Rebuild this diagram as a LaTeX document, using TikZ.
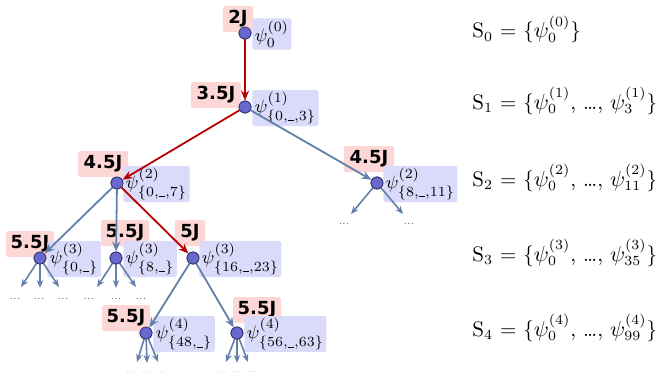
\documentclass[tikz,border=0pt]{standalone}
\usepackage{fontspec}
\newfontfamily\costfont{DejaVu Sans}
\usetikzlibrary{arrows.meta,calc}
\DeclareMathSizes{9}{9}{7}{5.5}
\newcommand{\usc}{\rule[-0.6pt]{3.2pt}{0.4pt}}
\definecolor{pinkbox}{RGB}{253,214,214}
\definecolor{lavbox}{RGB}{218,218,250}
\definecolor{nodefill}{RGB}{104,104,206}
\definecolor{nodedraw}{RGB}{50,50,110}
\definecolor{redarr}{RGB}{185,0,0}
\definecolor{bluearr}{RGB}{98,128,170}
\tikzset{
  x=0.5pt, y=-0.5pt,
  tnode/.style={circle, fill=nodefill, draw=nodedraw, line width=0.4pt, minimum size=6pt, inner sep=0pt},
  costbox/.style={fill=pinkbox, rounded corners=0.8pt, inner sep=0pt, minimum height=13pt, font=\costfont\bfseries\fontsize{9}{9}\selectfont, text=black},
  psibox/.style={fill=lavbox, rounded corners=0.8pt, inner sep=1.2pt, minimum height=15pt, anchor=west, font=\fontsize{9}{10}\selectfont},
  redline/.style={draw=redarr, line width=0.9pt, -{Stealth[length=5pt,width=4pt]}},
  blueline/.style={draw=bluearr, line width=0.9pt, -{Stealth[length=5pt,width=4pt]}},
  leafline/.style={draw=bluearr, line width=0.8pt, -{Stealth[length=4pt,width=3.2pt]}},
  dots/.style={font=\fontsize{4.5}{5}\selectfont, text=black!75, inner sep=0pt},
  ldots/.style={font=\fontsize{4}{5}\selectfont, text=black!35, inner sep=0pt},
  settext/.style={anchor=base west, inner sep=0pt, font=\fontsize{10.5}{12}\selectfont}
}
\begin{document}
\begin{tikzpicture}
\useasboundingbox (0,0) rectangle (660,375);
% tree nodes
\node[tnode] (A) at (245,33) {};
\node[tnode] (B) at (245,107) {};
\node[tnode] (C) at (117,183) {};
\node[tnode] (D) at (377,183) {};
\node[tnode] (E) at (40,258) {};
\node[tnode] (F) at (116,258) {};
\node[tnode] (G) at (193,258) {};
\node[tnode] (H) at (146,333) {};
\node[tnode] (I) at (237,333) {};
% cost labels
\node[costbox, minimum width=15pt] (Ac) at (238,19) {2J};
\node[costbox, minimum width=25pt] (Bc) at (216,95) {3.5J};
\node[costbox, minimum width=25pt] (Cc) at (103,164) {4.5J};
\node[costbox, minimum width=25pt] (Dc) at (369,159) {4.5J};
\node[costbox, minimum width=24pt] (Ec) at (30,244) {5.5J};
\node[costbox, minimum width=24pt] (Fc) at (125,233) {5.5J};
\node[costbox, minimum width=15pt] (Gc) at (190,233) {5J};
\node[costbox, minimum width=24pt] (Hc) at (126,318) {5.5J};
\node[costbox, minimum width=24pt] (Ic) at (257,310) {5.5J};
% state labels
\node[psibox] (Ap) at (252,34) {$\psi^{(0)}_{0}$};
\node[psibox] (Bp) at (252,108) {$\psi^{(1)}_{\{0,\usc,3\}}$};
\node[psibox] (Cp) at (123,184) {$\psi^{(2)}_{\{0,\usc,7\}}$};
\node[psibox] (Dp) at (383,184) {$\psi^{(2)}_{\{8,\usc,11\}}$};
\node[psibox] (Ep) at (47,259) {$\psi^{(3)}_{\{0,\usc\}}$};
\node[psibox] (Fp) at (123,259) {$\psi^{(3)}_{\{8,\usc\}}$};
\node[psibox] (Gp) at (199,259) {$\psi^{(3)}_{\{16,\usc,23\}}$};
\node[psibox] (Hp) at (153,334) {$\psi^{(4)}_{\{48,\usc\}}$};
\node[psibox] (Ip) at (244,334) {$\psi^{(4)}_{\{56,\usc,63\}}$};
% main edges
\draw[redline] (A) -- (B);
\draw[redline] (B) -- (C);
\draw[blueline] (B) -- (D);
\draw[blueline] (C) -- (E);
\draw[blueline] (C) -- (F);
\draw[redline] (C) -- (G);
\draw[blueline] (G) -- (H);
\draw[blueline] (G) -- (I);
% leaf tips
\coordinate (D1) at (351,214); \coordinate (D2) at (403,214);
\coordinate (E1) at (21,287); \coordinate (E2) at (40,288); \coordinate (E3) at (59,287);
\coordinate (F1) at (97,287); \coordinate (F2) at (116,288); \coordinate (F3) at (136,287);
\coordinate (H1) at (137,362); \coordinate (H2) at (147,363); \coordinate (H3) at (158,362);
\coordinate (I1) at (226,362); \coordinate (I2) at (237,363); \coordinate (I3) at (248,362);
\foreach \p/\q in {D/D1,D/D2,E/E1,E/E2,E/E3,F/F1,F/F2,F/F3,H/H1,H/H2,H/H3,I/I1,I/I2,I/I3}
  \draw[leafline] (\p) -- (\q);
% redraw nodes on top
\foreach \n in {A,B,C,D,E,F,G,H,I}
  \fill[nodefill, draw=nodedraw, line width=0.4pt] (\n) circle (3pt);
% dots
\node[dots] (d1) at (344,224) {...};
\node[dots] (d2) at (409,224) {...};
\node[dots] (e1) at (15,299) {...};
\node[dots] (e2) at (39,299) {...};
\node[dots] (e3) at (63,299) {...};
\node[dots] (f1) at (89,299) {...};
\node[dots] (f2) at (116,299) {...};
\node[dots] (f3) at (141,299) {...};
\node[ldots] (h1) at (131,372) {...};
\node[ldots] (h2) at (146,372) {...};
\node[ldots] (h3) at (161,372) {...};
\node[ldots] (i1) at (222,372) {...};
\node[ldots] (i2) at (237,372) {...};
\node[ldots] (i3) at (252,372) {...};
% right side
\node[settext] (S0) at (472,38) {S$_0$ = \{$\psi^{(0)}_0$\}};
\node[settext] (S1) at (472,109) {S$_1$ = \{$\psi^{(1)}_0$, \ldots, $\psi^{(1)}_3$\}};
\node[settext] (S2) at (472,186) {S$_2$ = \{$\psi^{(2)}_0$, \ldots, $\psi^{(2)}_{11}$\}};
\node[settext] (S3) at (472,261) {S$_3$ = \{$\psi^{(3)}_0$, \ldots, $\psi^{(3)}_{35}$\}};
\node[settext] (S4) at (472,336) {S$_4$ = \{$\psi^{(4)}_0$, \ldots, $\psi^{(4)}_{99}$\}};
\end{tikzpicture}
\end{document}
